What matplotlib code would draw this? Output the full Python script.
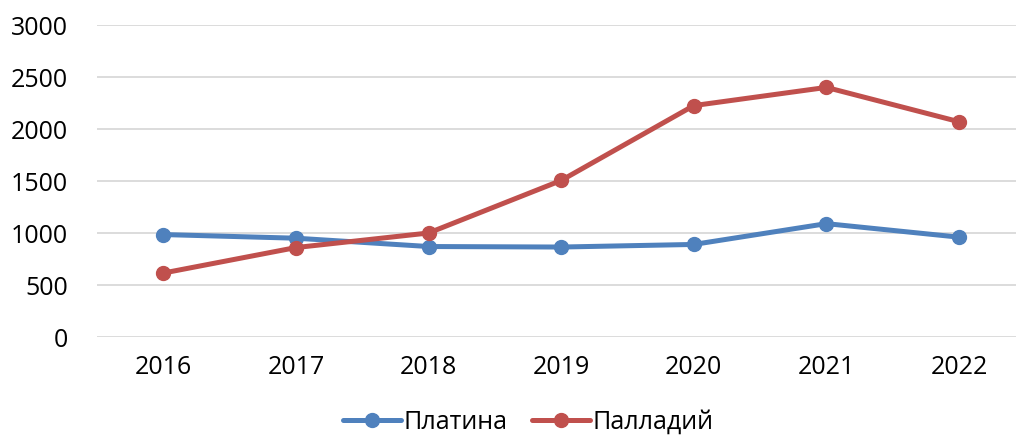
import matplotlib
matplotlib.use("Agg")
import matplotlib.pyplot as plt

plt.rcParams['font.family'] = ['Open Sans', 'DejaVu Sans']

years = ['2016', '2017', '2018', '2019', '2020', '2021', '2022']
platina = [985, 950, 870, 865, 890, 1090, 960]
palladiy = [615, 860, 1000, 1505, 2225, 2400, 2070]

fig = plt.figure(figsize=(10.16, 4.44), dpi=100)
ax = fig.add_axes([97 / 1016, 1 - 337 / 444, 1 - 97 / 1016, (337 - 25) / 444])

x = range(len(years))
ax.plot(x, platina, color='#4F81BD', lw=3.6, marker='o', ms=10, label='Платина', solid_capstyle='round')
ax.plot(x, palladiy, color='#C0504D', lw=3.6, marker='o', ms=10, label='Палладий', solid_capstyle='round')

ax.set_ylim(0, 3000)
ax.set_yticks(range(0, 3001, 500))
ax.set_xlim(-0.5, 6.43)
ax.set_xticks(list(x))
ax.set_xticklabels(years)
ax.grid(axis='y', color='#d9d9d9', lw=1.3)
ax.set_axisbelow(True)
for s in ax.spines.values():
    s.set_visible(False)
ax.tick_params(length=0, labelsize=18, colors='black')
ax.tick_params(axis='y', pad=21)
ax.tick_params(axis='x', pad=13)

fig.legend(loc='lower center', bbox_to_anchor=(0.52, -0.03), ncol=2, frameon=False,
           fontsize=18, handlelength=2.3, columnspacing=1.0, handletextpad=0.1)

fig.savefig('out.png', dpi=100)
